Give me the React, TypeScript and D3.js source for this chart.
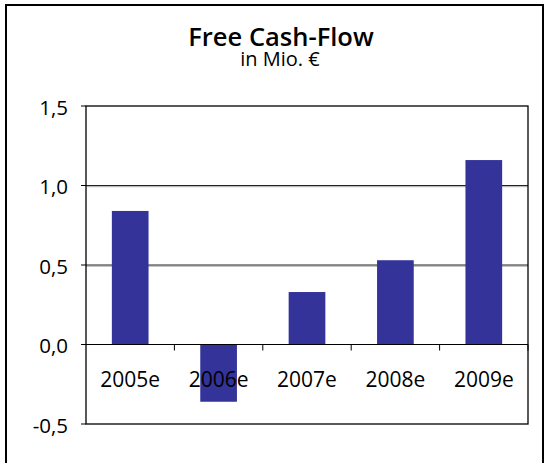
import React, { useEffect, useRef } from "react";
import * as d3 from "d3";

const categories = ["2005e", "2006e", "2007e", "2008e", "2009e"];
const values = [0.84, -0.36, 0.33, 0.53, 1.16];
const yTicks = [-0.5, 0, 0.5, 1.0, 1.5];

const W = 551;
const H = 463;
const margin = { left: 86, right: 23, top: 106, bottom: 39 };
const font = "'Open Sans', 'DejaVu Sans', sans-serif";

const App = () => {
  const svgRef = useRef<SVGSVGElement>(null);

  useEffect(() => {
    const svg = d3.select(svgRef.current);
    svg.selectAll("*").remove();

    const x = d3
      .scaleBand()
      .domain(categories)
      .range([margin.left, W - margin.right])
      .paddingInner(0.585)
      .paddingOuter(0.2925);

    const y = d3
      .scaleLinear()
      .domain([-0.5, 1.5])
      .range([H - margin.bottom, margin.top]);

    const fmt = (v: number) => d3.format(".1f")(v).replace(".", ",").replace("−", "-");

    // outer frame
    svg
      .append("rect")
      .attr("x", 6)
      .attr("y", 5)
      .attr("width", 537)
      .attr("height", 470)
      .attr("fill", "white")
      .attr("stroke", "black")
      .attr("stroke-width", 2);

    // title
    svg
      .append("text")
      .attr("x", 281)
      .attr("y", 46)
      .attr("text-anchor", "middle")
      .style("font-family", font)
      .style("font-size", "25.5px")
      .style("font-weight", 600)
      .text("Free Cash-Flow");

    svg
      .append("text")
      .attr("x", 280)
      .attr("y", 66)
      .attr("text-anchor", "middle")
      .style("font-family", font)
      .style("font-size", "20px")
      .text("in Mio. €");

    // gridlines
    const grid = yTicks.filter((t) => t !== 0 && t !== -0.5 && t !== 1.5);
    svg
      .selectAll("line.shadow")
      .data(grid)
      .enter()
      .append("line")
      .attr("class", "shadow")
      .attr("x1", margin.left)
      .attr("x2", W - margin.right)
      .attr("y1", (d) => y(d) + 1.2)
      .attr("y2", (d) => y(d) + 1.2)
      .attr("stroke", "#aaaaaa")
      .attr("stroke-width", 1);
    svg
      .selectAll("line.grid")
      .data(grid)
      .enter()
      .append("line")
      .attr("class", "grid")
      .attr("x1", margin.left)
      .attr("x2", W - margin.right)
      .attr("y1", (d) => y(d))
      .attr("y2", (d) => y(d))
      .attr("stroke", "#222")
      .attr("stroke-width", 1);

    // bars
    svg
      .selectAll("rect.bar")
      .data(values)
      .enter()
      .append("rect")
      .attr("class", "bar")
      .attr("x", (d, i) => x(categories[i]) as number)
      .attr("width", x.bandwidth())
      .attr("y", (d) => y(Math.max(0, d)))
      .attr("height", (d) => Math.abs(y(d) - y(0)))
      .attr("fill", "#333399");

    // plot frame
    svg
      .append("rect")
      .attr("x", margin.left)
      .attr("y", margin.top)
      .attr("width", W - margin.left - margin.right)
      .attr("height", H - margin.top - margin.bottom)
      .attr("fill", "none")
      .attr("stroke", "black")
      .attr("stroke-width", 1.3);

    // zero line
    svg
      .append("line")
      .attr("x1", margin.left)
      .attr("x2", W - margin.right)
      .attr("y1", y(0))
      .attr("y2", y(0))
      .attr("stroke", "black")
      .attr("stroke-width", 1.2);

    // category boundary ticks
    const step = x.step();
    const bounds = d3.range(1, categories.length + 1).map((i) => margin.left + i * step);
    svg
      .selectAll("line.xtick")
      .data(bounds)
      .enter()
      .append("line")
      .attr("class", "xtick")
      .attr("x1", (d) => d)
      .attr("x2", (d) => d)
      .attr("y1", y(0))
      .attr("y2", y(0) + 6)
      .attr("stroke", "black")
      .attr("stroke-width", 1);

    // y ticks
    svg
      .selectAll("line.ytick")
      .data(yTicks)
      .enter()
      .append("line")
      .attr("class", "ytick")
      .attr("x1", margin.left - 5)
      .attr("x2", margin.left)
      .attr("y1", (d) => y(d))
      .attr("y2", (d) => y(d))
      .attr("stroke", "black")
      .attr("stroke-width", 1);

    svg
      .selectAll("text.ylab")
      .data(yTicks)
      .enter()
      .append("text")
      .attr("class", "ylab")
      .attr("x", 68)
      .attr("y", (d) => y(d) + 8.5)
      .attr("text-anchor", "end")
      .style("font-family", font)
      .style("font-size", "20.5px")
      .text((d) => fmt(d));

    // category labels
    svg
      .selectAll("text.xlab")
      .data(categories)
      .enter()
      .append("text")
      .attr("class", "xlab")
      .attr("x", (d) => (x(d) as number) + x.bandwidth() / 2)
      .attr("y", y(0) + 42.5)
      .attr("text-anchor", "middle")
      .style("font-family", font)
      .style("font-size", "21px")
      .text((d) => d);
  }, []);

  return (
    <svg
      ref={svgRef}
      width={W}
      height={H}
      style={{ position: "absolute", left: 0, top: 0, background: "white" }}
    />
  );
};

export default App;
